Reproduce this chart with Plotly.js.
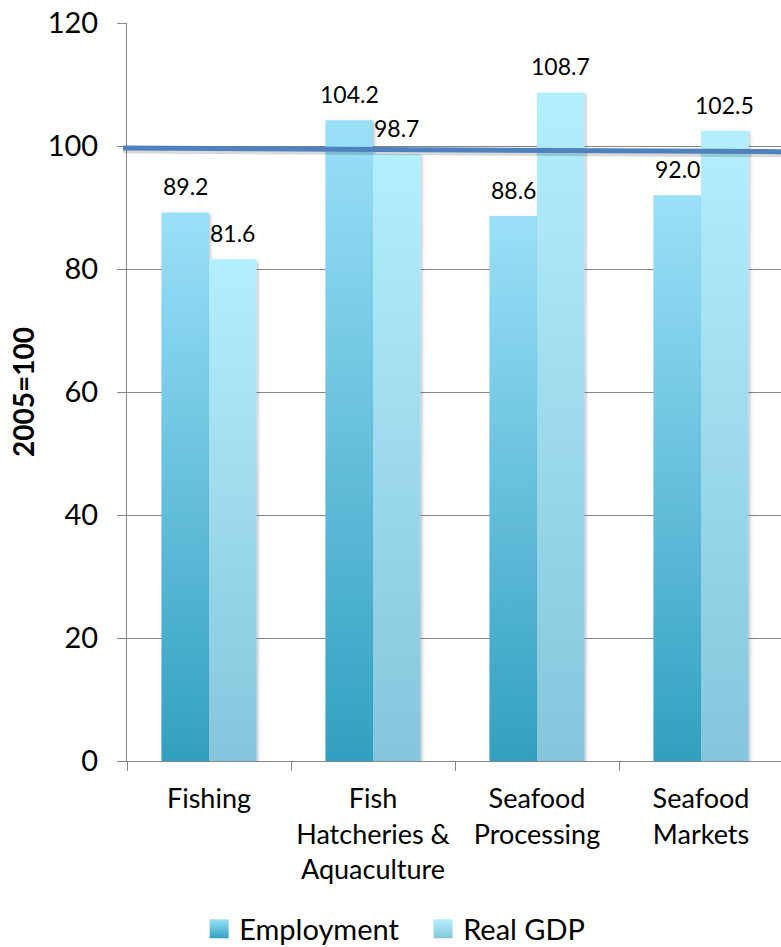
<!DOCTYPE html>
<html>
<head>
<meta charset="utf-8">
<script src="https://cdn.plot.ly/plotly-3.0.1.min.js"></script>
<style>
  html, body { margin: 0; padding: 0; background: #fff; overflow: hidden; }
  #chart { width: 784px; height: 947px; }
</style>
</head>
<body>
<div id="chart"></div>
<script>
// ---- data ----
const categories = ['Fishing', 'Fish<br>Hatcheries &<br>Aquaculture', 'Seafood<br>Processing', 'Seafood<br>Markets'];
const seriesNames = ['Employment', 'Real GDP'];
const employment = [89.2, 104.2, 88.6, 92.0];
const realGDP = [81.6, 98.7, 108.7, 102.5];
const yTickVals = [0, 20, 40, 60, 80, 100, 120];
const yAxisTitle = '2005=100';
const baseline = 100;

// ---- styles ----
const FONT = 'Lato, "Open Sans", sans-serif';
const GRID = '#868686';
const gradients = {
  gEmp: ['#9be0f9', '#32a0c0'],
  gGdp: ['#b3effd', '#86c5dc']
};
const plotW = 656;
const bargap = 0.42;
const barPx = plotW / categories.length * (1 - bargap) / 2;

const traces = [
  { type: 'bar', name: seriesNames[0], x: categories, y: employment,
    marker: { color: '#5fbcd9' }, hoverinfo: 'skip' },
  { type: 'bar', name: seriesNames[1], x: categories, y: realGDP,
    marker: { color: '#a3dff0' }, hoverinfo: 'skip' }
];

const annotations = [];
[employment, realGDP].forEach((vals, s) => {
  vals.forEach((v, i) => {
    annotations.push({
      x: categories[i], y: v, xref: 'x', yref: 'y',
      text: v.toFixed(1), showarrow: false,
      xshift: (s === 0 ? -1 : 1) * barPx / 2, yshift: 10,
      yanchor: 'bottom', xanchor: 'center',
      font: { family: FONT, size: 23, color: '#000' }
    });
  });
});
annotations.push({
  xref: 'paper', yref: 'paper', x: -0.1585, y: 0.5,
  text: '<b>' + yAxisTitle + '</b>', textangle: -90, showarrow: false,
  xanchor: 'center', yanchor: 'middle',
  font: { family: FONT, size: 28, color: '#000' }
});

const layout = {
  width: 784, height: 947,
  margin: { l: 127, r: 1, t: 23, b: 186 },
  paper_bgcolor: '#fff', plot_bgcolor: '#fff',
  barmode: 'group', bargap: bargap, bargroupgap: 0,
  showlegend: true,
  legend: {
    orientation: 'h', xref: 'container', yref: 'container',
    x: 0.254, xanchor: 'left', y: 0.019, yanchor: 'middle',
    font: { family: FONT, size: 29, color: '#000' },
    entrywidth: 179, entrywidthmode: 'pixels', traceorder: 'normal'
  },
  xaxis: {
    type: 'category', showgrid: false, showline: true, linecolor: GRID, linewidth: 1,
    ticks: 'outside', tickson: 'boundaries', ticklen: 9, tickcolor: GRID, tickwidth: 1,
    ticklabelstandoff: 14, automargin: false,
    tickfont: { family: FONT, size: 27, color: '#000' }, fixedrange: true
  },
  yaxis: {
    range: [0, 120], tickvals: yTickVals, showgrid: true, gridcolor: GRID, gridwidth: 1,
    showline: true, linecolor: GRID, linewidth: 1, zeroline: false,
    ticks: 'outside', ticklen: 9, tickcolor: GRID, tickwidth: 1,
    ticklabelstandoff: 13, automargin: false,
    tickfont: { family: FONT, size: 29, color: '#000' }, fixedrange: true
  },
  shapes: [
    { type: 'line', xref: 'paper', yref: 'y', x0: -0.006, x1: 1, y0: baseline - 0.75, y1: baseline - 1.35,
      line: { color: 'rgba(0,0,0,0.15)', width: 6 } },
    { type: 'line', xref: 'paper', yref: 'y', x0: -0.006, x1: 1, y0: baseline - 0.33, y1: baseline - 0.93,
      line: { color: '#4f81bd', width: 5 } }
  ],
  annotations: annotations
};

const gd = document.getElementById('chart');
Plotly.newPlot(gd, traces, layout, { staticPlot: true, displayModeBar: false }).then(() => {
  const ns = 'http://www.w3.org/2000/svg';
  const svg = gd.querySelector('svg.main-svg');
  let defs = svg.querySelector('defs');
  if (!defs) { defs = document.createElementNS(ns, 'defs'); svg.insertBefore(defs, svg.firstChild); }
  Object.keys(gradients).forEach(id => {
    const g = document.createElementNS(ns, 'linearGradient');
    g.setAttribute('id', id);
    g.setAttribute('x1', '0'); g.setAttribute('y1', '0');
    g.setAttribute('x2', '0'); g.setAttribute('y2', '1');
    gradients[id].forEach((c, k) => {
      const st = document.createElementNS(ns, 'stop');
      st.setAttribute('offset', k === 0 ? '0' : '1');
      st.setAttribute('stop-color', c);
      g.appendChild(st);
    });
    defs.appendChild(g);
  });
  const f = document.createElementNS(ns, 'filter');
  f.setAttribute('id', 'barShadow');
  f.setAttribute('x', '-20%'); f.setAttribute('y', '-5%');
  f.setAttribute('width', '140%'); f.setAttribute('height', '110%');
  const ds = document.createElementNS(ns, 'feDropShadow');
  ds.setAttribute('dx', '1.5'); ds.setAttribute('dy', '1.5');
  ds.setAttribute('stdDeviation', '1.5'); ds.setAttribute('flood-opacity', '0.25');
  f.appendChild(ds); defs.appendChild(f);

  const ids = Object.keys(gradients);
  gd.querySelectorAll('.barlayer .trace').forEach((t, i) => {
    t.querySelectorAll('.point path').forEach(p => {
      p.style.fill = 'url(#' + ids[i] + ')';
      p.style.filter = 'url(#barShadow)';
    });
  });
  gd.querySelectorAll('.legend .traces').forEach((t, i) => {
    t.querySelectorAll('.legendpoints path').forEach(p => {
      p.setAttribute('d', 'M9.5,9.5H-9.5V-9.5H9.5Z');
      p.style.fill = 'url(#' + ids[i] + ')';
      p.style.stroke = 'none';
    });
  });
});
</script>
</body>
</html>
